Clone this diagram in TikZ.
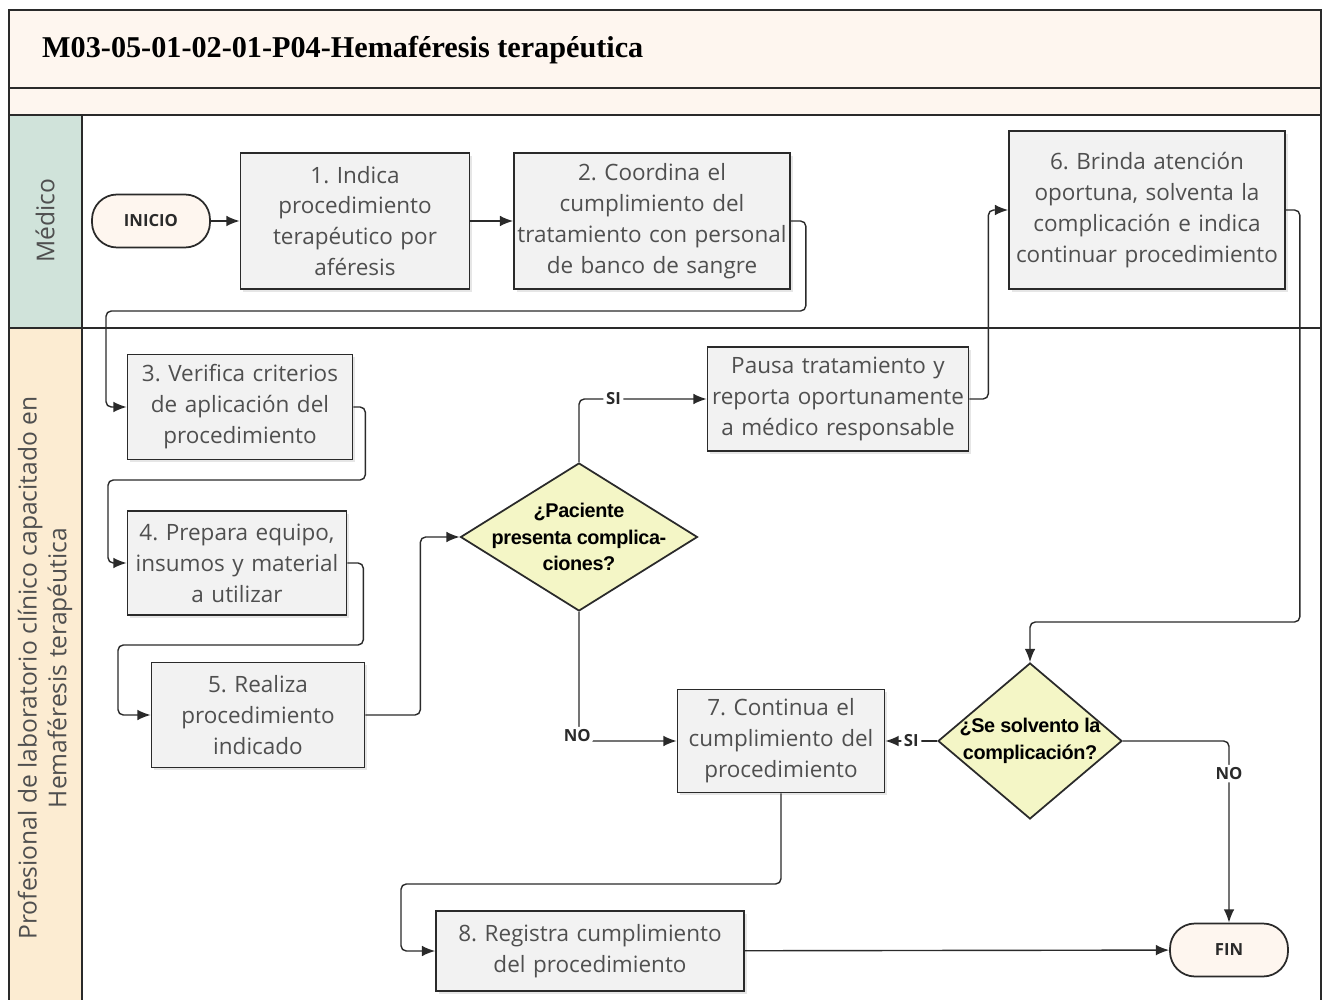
\documentclass[tikz,border=0pt]{standalone}
\usepackage{fontspec}
\usetikzlibrary{shapes.geometric,arrows.meta,shadows}
\newfontfamily\boxfont{Open Sans}
\newfontfamily\titlefont{Liberation Serif}
\newfontfamily\decfont[LetterSpace=-2]{Liberation Sans}
\definecolor{bandfill}{HTML}{FEF6EF}
\definecolor{medfill}{HTML}{D0E3DA}
\definecolor{proffill}{HTML}{FCECD2}
\definecolor{boxfill}{HTML}{F2F2F2}
\definecolor{decfill}{HTML}{F4F6C6}
\definecolor{txtgray}{HTML}{4F4F4F}
\definecolor{linedark}{HTML}{2A2A2A}
\tikzstyle{frame}=[draw=linedark, line width=1.2pt]
\tikzstyle{process}=[rectangle, draw=linedark, line width=1pt, fill=boxfill, inner sep=0pt, align=center, text=txtgray, font=\boxfont\fontsize{12.8}{17.6}\selectfont, drop shadow={opacity=0.2, shadow xshift=1.5pt, shadow yshift=-1.5pt}]
\tikzstyle{terminal}=[rectangle, rounded corners=0.5cm, draw=linedark, line width=1pt, fill=bandfill, minimum width=2.36cm, minimum height=1.06cm, font=\boxfont\bfseries\fontsize{9.5}{11}\selectfont, text=linedark]
\tikzstyle{decision}=[diamond, draw=linedark, line width=1pt, fill=decfill, inner sep=0pt]
\tikzstyle{dectext}=[align=center, inner sep=0pt, font=\decfont\bfseries\fontsize{11.3}{15}\selectfont]
\tikzstyle{lanesty}=[align=center, text=txtgray, font=\boxfont\fontsize{14}{17}\selectfont]
\tikzstyle{labelsty}=[fill=white, inner sep=1.5pt, font=\boxfont\bfseries\fontsize{9.5}{11}\selectfont, text=linedark]
\tikzstyle{flow}=[draw=linedark, line width=0.8pt, rounded corners=3pt, -{Latex[length=7.5pt,width=6pt]}]

\begin{document}
\frenchspacing
\begin{tikzpicture}[x=0.02cm, y=-0.02cm]
				\useasboundingbox (0,0) rectangle (1323,1000);
				% pool, title and lanes
				\fill[bandfill] (9,10) rectangle (1321,115);
				\fill[medfill] (9,115) rectangle (82,328);
				\fill[proffill] (9,328) rectangle (82,1000);
				\draw[frame] (9,1000) -- (9,10) -- (1321,10) -- (1321,1000);
				\draw[frame] (9,88) -- (1321,88);
				\draw[frame] (9,115) -- (1321,115);
				\draw[frame] (9,328) -- (1321,328);
				\draw[frame] (82,115) -- (82,1000);
				\node[anchor=west, font=\titlefont\bfseries\fontsize{17.2}{20}\selectfont] (title) at (36,50) {M03-05-01-02-01-P04-Hemaféresis terapéutica};
				\node[lanesty, rotate=90] (lmed) at (45,221) {Médico};
				\node[lanesty, rotate=90] (lprof) at (45,668) {Profesional de laboratorio clínico capacitado en\\Hemaféresis terapéutica};
				
				\node[terminal] (ini) at (151,221) {INICIO};
				\node[process, text width=4.58cm, minimum height=2.72cm] (b1) at (355,221) {1. Indica\\procedimiento\\terapéutico por\\aféresis};
				\node[process, text width=5.52cm, minimum height=2.72cm] (b2) at (652,221) {2. Coordina el\\cumplimiento del\\tratamiento con personal\\de banco de sangre};
				\node[process, text width=5.52cm, minimum height=3.16cm] (b6) at (1147,210) {6. Brinda atención\\oportuna, solventa la\\complicación e indica\\continuar procedimiento};
				\node[process, text width=4.5cm, minimum height=2.1cm] (b3) at (240,407) {3. Verifica criterios\\de aplicación del\\procedimiento};
				\node[process, text width=4.38cm, minimum height=2.08cm] (b4) at (237,563) {4. Prepara equipo,\\insumos y material\\a utilizar};
				\node[process, text width=4.26cm, minimum height=2.1cm] (b5) at (258,715) {5. Realiza\\procedimiento\\indicado};
				\node[decision, minimum width=4.74cm, minimum height=2.96cm, label={[dectext]center:{¿Paciente\\presenta complica-\\ciones?}}] (d1) at (579,537) {};
				\node[process, text width=5.22cm, minimum height=2.08cm] (pa) at (838,399) {Pausa tratamiento y\\reporta oportunamente\\a médico responsable};
				\node[process, text width=4.14cm, minimum height=2.06cm] (b7) at (781,741) {7. Continua el\\cumplimiento del\\procedimiento};
				\node[decision, minimum width=3.68cm, minimum height=3.12cm, label={[dectext]center:{¿Se solvento la\\complicación?}}] (d2) at (1030,741) {};
				\node[process, text width=6.16cm, minimum height=1.6cm] (b8) at (590,951) {8. Registra cumplimiento\\del procedimiento};
				\node[terminal] (fin) at (1229,950) {FIN};
				
				\draw[flow] (ini) -- (b1);
				\draw[flow] (b1) -- (b2);
				\draw[flow] (b2.east) -- ++(15,0) |- (106,311) |- (b3.west);
				\draw[flow] (b3.east) -- ++(12,0) |- (108,480) |- (b4.west);
				\draw[flow] (b4.east) -- ++(16,0) |- (118,645) |- (b5.west);
				\draw[flow] (b5.east) -- ++(55,0) |- (d1.west);
				\draw[flow] (d1.north) |- node[labelsty, pos=0.635]{SI} (pa.west);
				\draw[flow] (d1.south) |- node[labelsty, pos=0.5, xshift=-1pt, yshift=3pt]{NO} (b7.west);
				\draw[flow] (pa.east) -- ++(19,0) |- (b6.west);
				\draw[flow] (b6.east) -- ++(14,0) |- (1030,622) -- (d2.north);
				\draw[flow] (d2.west) -- node[labelsty]{SI} (b7.east);
				\draw[flow] (d2.east) -| node[labelsty, pos=0.59]{NO} (fin.north);
				\draw[flow] (b7.south) |- (401,884) |- (b8.west);
				\draw[flow] (b8) -- (fin);
			\end{tikzpicture}
\end{document}
